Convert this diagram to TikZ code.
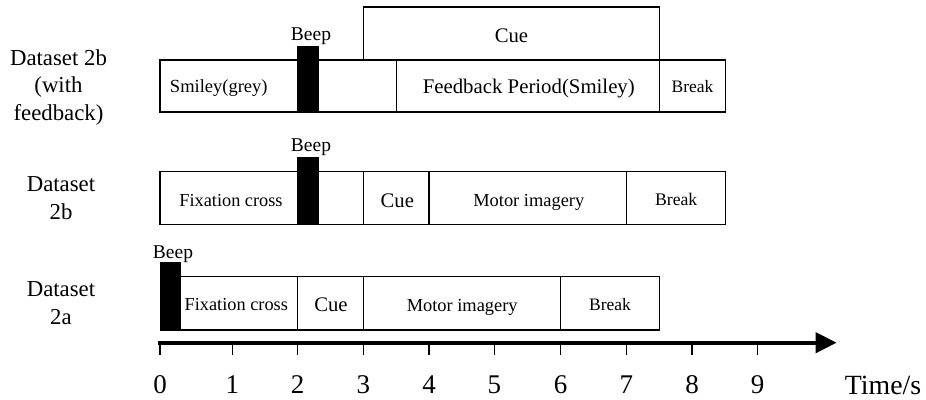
\documentclass[tikz,border=0pt]{standalone}
\usepackage{fontspec}
\setmainfont{Liberation Serif}
\usetikzlibrary{arrows.meta}
\newcommand\fsz[1]{\fontsize{#1}{#1}\selectfont}
\begin{document}
\begin{tikzpicture}[x=1pt,y=-1pt,
  seg/.style={draw=black, line width=1.3pt, inner sep=0pt, outer sep=0pt, anchor=north west},
  beepbar/.style={draw=black, fill=black, line width=0.5pt, inner sep=0pt, outer sep=0pt, anchor=north west},
  txt/.style={inner sep=0pt, outer sep=0pt, anchor=base},
  tick/.style={line width=1.5pt},
  axis/.style={line width=4pt, -{Triangle[length=21pt,width=20pt]}}]
\useasboundingbox (0,0) rectangle (926,399);

% ---------- Row 1 : Dataset 2b (with feedback)
\node[seg, minimum width=236.7pt, minimum height=52pt] (r1a) at (160,60) {};
\node[seg, minimum width=262.6pt, minimum height=52pt] (r1b) at (396.7,60) {};
\node[seg, minimum width=66.4pt, minimum height=52pt] (r1c) at (659.3,60) {};
\node[seg, minimum width=296pt, minimum height=53pt] (cue1) at (363.3,7) {};
\node[beepbar, minimum width=21pt, minimum height=66pt] (beep1) at (297.3,46) {};

\node[txt, font=\fsz{19.5}] (lbeep1) at (311,40.5) {Beep};
\node[txt, font=\fsz{20.7}] (lcue1) at (511.5,42.5) {Cue};
\node[txt, font=\fsz{18.5}] (lsmiley) at (218.8,92.5) {Smiley(grey)};
\node[txt, font=\fsz{20.8}] (lfeed) at (528.8,93) {Feedback Period(Smiley)};
\node[txt, font=\fsz{17.5}] (lbreak1) at (692.5,92.6) {Break};

% ---------- Row 2 : Dataset 2b
\node[seg, minimum width=203.3pt, minimum height=52.6pt] (r2a) at (160,171.7) {};
\node[seg, minimum width=65.7pt, minimum height=52.6pt] (r2b) at (363.3,171.7) {};
\node[seg, minimum width=197.3pt, minimum height=52.6pt] (r2c) at (429,171.7) {};
\node[seg, minimum width=99.4pt, minimum height=52.6pt] (r2d) at (626.3,171.7) {};
\node[beepbar, minimum width=21pt, minimum height=66.6pt] (beep2) at (297.3,157.7) {};

\node[txt, font=\fsz{19.5}] (lbeep2) at (311,151.2) {Beep};
\node[txt, font=\fsz{18.3}] (lfix2) at (231,206) {Fixation cross};
\node[txt, font=\fsz{20.7}] (lcue2) at (397.3,207) {Cue};
\node[txt, font=\fsz{18.4}] (lmi2) at (528.8,206.5) {Motor imagery};
\node[txt, font=\fsz{17.7}] (lbreak2) at (676.2,205.8) {Break};

% ---------- Row 3 : Dataset 2a
\node[seg, minimum width=117.7pt, minimum height=53.3pt] (r3a) at (180,276.7) {};
\node[seg, minimum width=65.6pt, minimum height=53.3pt] (r3b) at (297.7,276.7) {};
\node[seg, minimum width=197.4pt, minimum height=53.3pt] (r3c) at (363.3,276.7) {};
\node[seg, minimum width=98.6pt, minimum height=53.3pt] (r3d) at (560.7,276.7) {};
\node[beepbar, minimum width=20pt, minimum height=67.3pt] (beep3) at (160,262.7) {};

\node[txt, font=\fsz{19.5}] (lbeep3) at (173,258) {Beep};
\node[txt, font=\fsz{18.3}] (lfix3) at (236.3,310.5) {Fixation cross};
\node[txt, font=\fsz{20.7}] (lcue3) at (331,311.3) {Cue};
\node[txt, font=\fsz{18.4}] (lmi3) at (462.2,311.3) {Motor imagery};
\node[txt, font=\fsz{17.5}] (lbreak3) at (610,310.2) {Break};

% ---------- Row titles
\node[txt, font=\fsz{22.8}] (t1a) at (58.5,65) {Dataset 2b};
\node[txt, font=\fsz{22.8}] (t1b) at (58.5,92.5) {(with};
\node[txt, font=\fsz{22.8}] (t1c) at (58.5,120) {feedback)};
\node[txt, font=\fsz{22.8}] (t2a) at (61,191.7) {Dataset};
\node[txt, font=\fsz{22.8}] (t2b) at (61,219.2) {2b};
\node[txt, font=\fsz{22.8}] (t3a) at (61,296.7) {Dataset};
\node[txt, font=\fsz{22.8}] (t3b) at (61,324.2) {2a};

% ---------- Time axis
\coordinate (ax0) at (158,342.7);
\coordinate (axend) at (836.7,342.7);
\draw[axis] (ax0) -- (axend);
\foreach \n/\x in {0/160,1/232.3,2/297.7,3/363.3,4/429,5/494.3,6/560.7,7/626.3,8/692,9/757.7}{
  \draw[tick] (\x,342.7) -- (\x,355);
  \node[txt, font=\fsz{27}] (num\n) at (\x,393.3) {\n};
}
\node[txt, font=\fsz{27.8}] (tlabel) at (883,394) {Time/s};
\end{tikzpicture}
\end{document}
